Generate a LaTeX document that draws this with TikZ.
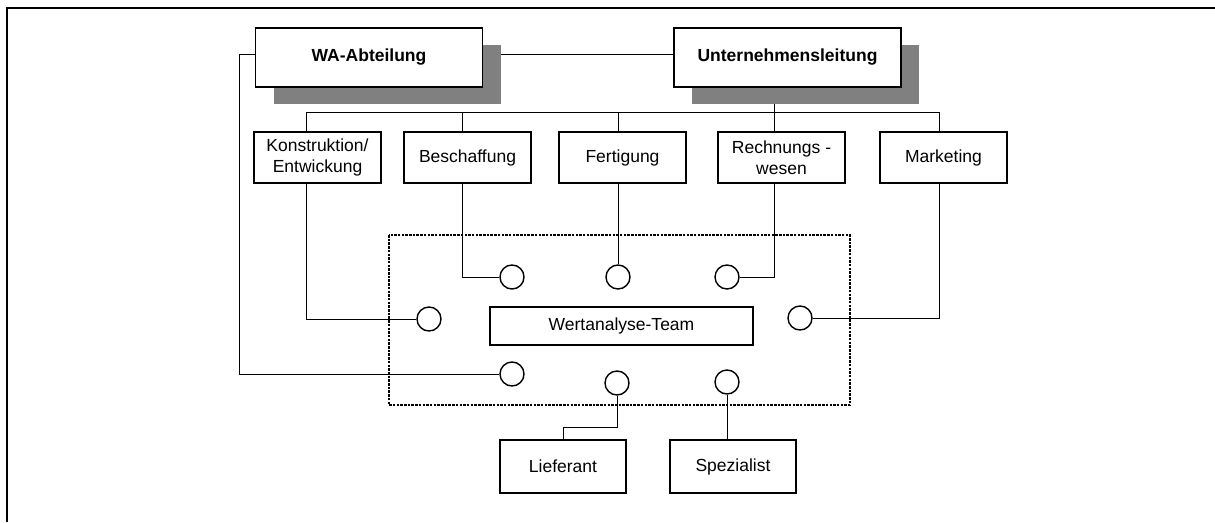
\documentclass[tikz,border=0pt]{standalone}
\usepackage{fontspec}
\setmainfont{Liberation Sans}
\usetikzlibrary{backgrounds, shadows}
\definecolor{shadowgray}{RGB}{128,128,128}
\tikzset{
  unit/.style={draw, line width=1.4pt, fill=white, minimum width=127pt, minimum height=51pt,
    inner sep=2pt, align=center, font=\fontsize{17.5}{21}\selectfont},
  head/.style={unit, minimum width=227pt, minimum height=59pt, font=\fontsize{17.5}{21}\selectfont\bfseries,
    drop shadow={shadow xshift=18pt, shadow yshift=-17pt, fill=shadowgray, opacity=1}},
  port/.style={draw, line width=1.4pt, fill=white, circle, minimum size=24pt, inner sep=0pt},
  link/.style={line width=1.4pt},
  teamframe/.style={line width=2.6pt, dash pattern=on 2.5pt off 1.2pt},
}

\begin{document}
\begin{tikzpicture}[x=1pt, y=-1pt]
\useasboundingbox (0,0) rectangle (1215,522);
\draw[line width=1.6pt] (7,522) -- (7,8) -- (1215,8);

% Leitung
\node[head] (wa) at (369,57.5) {WA-Abteilung};
\node[head] (ul) at (787.5,57.5) {Unternehmensleitung};

% Abteilungen
\node[unit] (kon) at (317.5,157.5) {Konstruktion/\\Entwickung};
\node[unit] (besch) at (467.5,157.5) {Beschaffung};
\node[unit] (fert) at (622.5,157.5) {Fertigung};
\node[unit] (rw) at (781.5,157.5) {Rechnungs -\\wesen};
\node[unit] (mark) at (943.5,157.5) {Marketing};

% Team
\draw[teamframe] (389,235) rectangle (850,405);
\node[unit, minimum width=263pt, minimum height=38pt] (team) at (621.5,326) {Wertanalyse-Team};
\node[port] (cB) at (512,277) {};
\node[port] (cF) at (618,277) {};
\node[port] (cR) at (727,277) {};
\node[port] (cK) at (429,319) {};
\node[port] (cM) at (800,318) {};
\node[port] (cW) at (512,374) {};
\node[port] (cL) at (617,383) {};
\node[port] (cS) at (727,382) {};

\node[unit, minimum width=126pt, minimum height=53pt] (lief) at (563,466.5) {Lieferant};
\node[unit, minimum width=126pt, minimum height=53pt] (spez) at (733,466.5) {Spezialist};

\begin{scope}[on background layer, link]
\draw ([yshift=3.5pt]wa.east) -- ([yshift=3.5pt]ul.west);
\draw ([yshift=3.5pt]wa.west) -- ++(-16,0) |- (cW.west);
\draw ([xshift=-13.5pt]ul.south) -- ([xshift=-7.5pt]rw.north);
\draw ([xshift=-11.5pt]kon.north) -- ++(0,-19) -| ([xshift=-4.5pt]mark.north);
\foreach \n/\dx in {besch/-5.5, fert/-4.5}
  \draw ([xshift=\dx pt]\n.north) -- ++(0,-19);
\draw ([xshift=-11.5pt]kon.south) |- (cK.west);
\draw ([xshift=-5.5pt]besch.south) |- (cB.west);
\draw ([xshift=-4.5pt]fert.south) -- (cF.north);
\draw ([xshift=-7.5pt]rw.south) |- (cR.east);
\draw ([xshift=-4.5pt]mark.south) |- (cM.east);
\draw (cL.south) -- ++(0,31.5) -| (lief.north);
\draw (cS.south) -- (cS.south |- spez.north);
\end{scope}
\end{tikzpicture}
\end{document}
